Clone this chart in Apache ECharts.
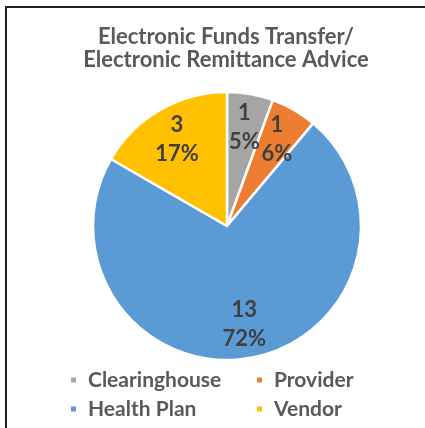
<!DOCTYPE html>
<html>
<head>
<meta charset="utf-8">
<script src="https://cdn.jsdelivr.net/npm/echarts@6/dist/echarts.min.js"></script>
<style>
  html, body { margin: 0; padding: 0; background: #fff; }
  #wrap { position: relative; width: 425px; height: 428px; }
  #chart { position: absolute; left: 0; top: 0; width: 425px; height: 428px; }
  .frame {
    position: absolute;
    left: 5px;
    top: 6px;
    width: 420px;
    height: 422px;
    border-left: 2px solid #1e1e1e;
    border-top: 2px solid #1e1e1e;
    pointer-events: none;
  }
</style>
</head>
<body>
<div id="wrap">
  <div id="chart"></div>
  <div class="frame"></div>
</div>
<script>
// data
var categories = ["Clearinghouse", "Provider", "Health Plan", "Vendor"];
var counts = [1, 1, 13, 3];
var percentLabels = ["5%", "6%", "72%", "17%"];
var colors = ["#A5A5A5", "#ED7D31", "#5B9BD5", "#FFC000"];

var font = "Lato";
var textColor = "#595959";

var pieData = categories.map(function (name, i) {
  return { name: name, value: counts[i], itemStyle: { color: colors[i] } };
});

var legendText = {
  fontFamily: font,
  fontSize: 21,
  fontWeight: "bold",
  color: textColor,
  lineHeight: 22,
  padding: [0, 0, 0, 6]
};

var myChart = echarts.init(document.getElementById("chart"));
myChart.setOption({
  animation: false,
  title: {
    text: "Electronic Funds Transfer/\nElectronic Remittance Advice",
    left: 226,
    textAlign: "center",
    top: 25,
    padding: 0,
    textStyle: {
      fontFamily: font,
      fontSize: 22,
      fontWeight: "bold",
      color: textColor,
      lineHeight: 23
    }
  },
  // two columns, so the second column lines up
  legend: [
    {
      data: ["Clearinghouse", "Health Plan"],
      orient: "vertical",
      left: 69,
      top: 369,
      padding: 0,
      icon: "rect",
      itemWidth: 7,
      itemHeight: 7,
      itemGap: 7,
      textStyle: legendText
    },
    {
      data: ["Provider", "Vendor"],
      orient: "vertical",
      left: 255,
      top: 369,
      padding: 0,
      icon: "rect",
      itemWidth: 7,
      itemHeight: 7,
      itemGap: 7,
      textStyle: legendText
    }
  ],
  series: [
    {
      type: "pie",
      center: [227, 226],
      radius: [0, 134],
      startAngle: 90,
      clockwise: true,
      silent: true,
      itemStyle: { borderColor: "#fff", borderWidth: 2.5 },
      label: { show: false },
      labelLine: { show: false },
      data: pieData
    },
    {
      // transparent ring used only to place the labels further out
      type: "pie",
      center: [227, 226],
      radius: [60, 134],
      startAngle: 90,
      clockwise: true,
      silent: true,
      legendHoverLink: false,
      itemStyle: { color: "transparent", borderWidth: 0 },
      label: {
        show: true,
        position: "inside",
        fontFamily: font,
        fontSize: 22,
        fontWeight: "bold",
        color: "#404040",
        lineHeight: 29,
        formatter: function (p) {
          return p.value + "\n" + percentLabels[p.dataIndex];
        }
      },
      labelLine: { show: false },
      data: categories.map(function (name, i) {
        return { name: name + " ", value: counts[i] };
      })
    }
  ]
});
</script>
</body>
</html>
